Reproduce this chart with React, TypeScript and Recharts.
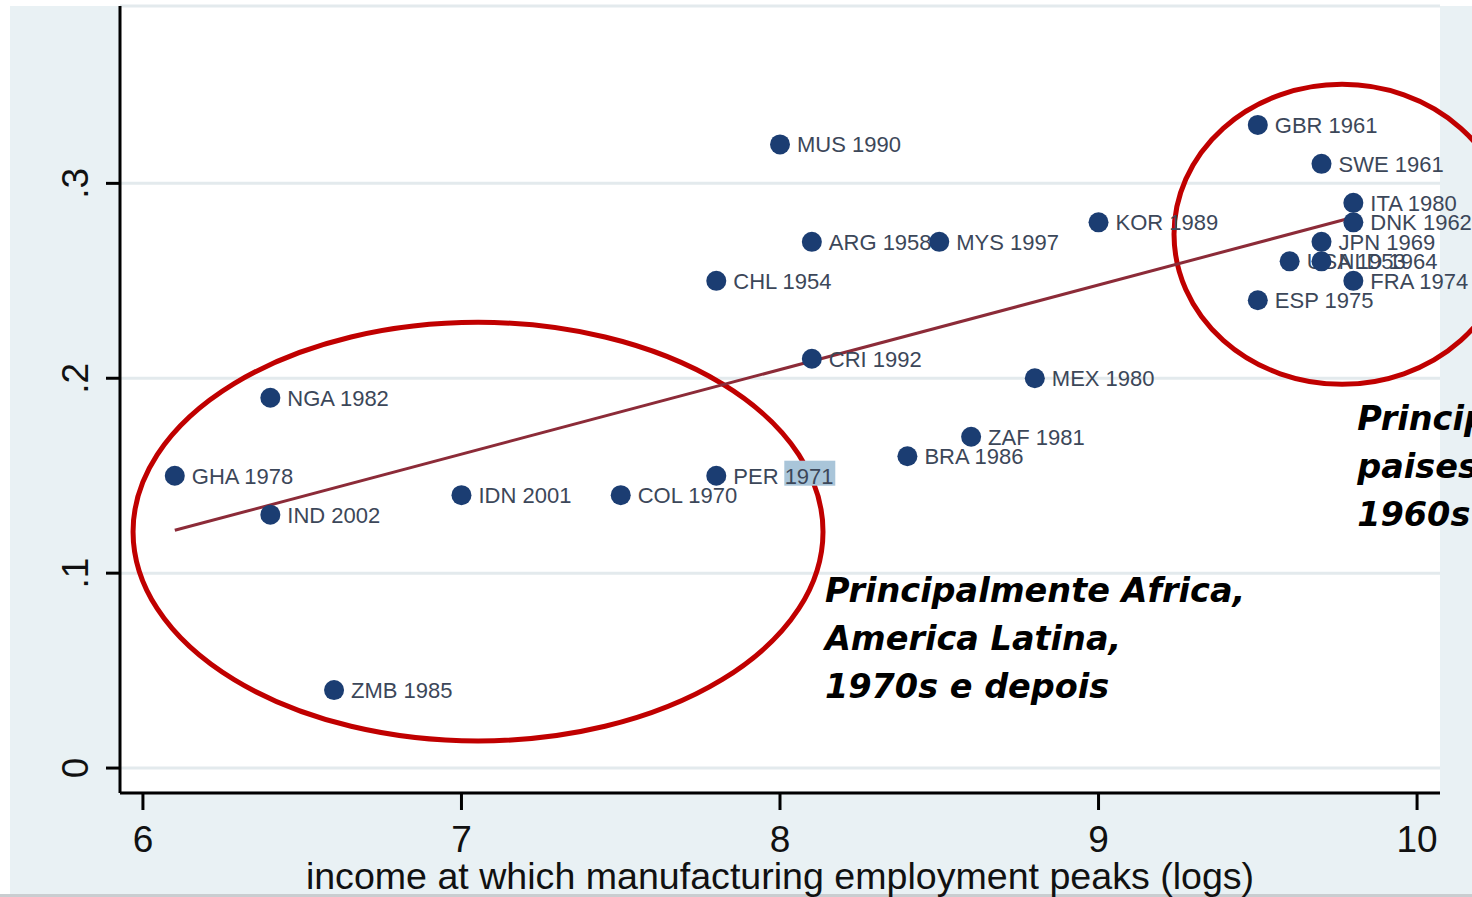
import { ScatterChart, Scatter, XAxis, YAxis, CartesianGrid, ReferenceLine, ReferenceArea, ReferenceDot } from "recharts";

// country + year of peak
const countries = [
  "GHA 1978", "NGA 1982", "IND 2002", "ZMB 1985", "IDN 2001", "COL 1970", "PER 1971",
  "CHL 1954", "MUS 1990", "ARG 1958", "CRI 1992", "MYS 1997", "BRA 1986", "ZAF 1981",
  "MEX 1980", "KOR 1989", "GBR 1961", "SWE 1961", "ITA 1980", "DNK 1962", "JPN 1969",
  "USA 1953", "NLD 1964", "FRA 1974", "ESP 1975",
];
// income at which manufacturing employment peaks (logs)
const peakIncome = [
  6.1, 6.4, 6.4, 6.6, 7.0, 7.5, 7.8,
  7.8, 8.0, 8.1, 8.1, 8.5, 8.4, 8.6,
  8.8, 9.0, 9.5, 9.7, 9.8, 9.8, 9.7,
  9.6, 9.7, 9.8, 9.5,
];
// peak manufacturing employment share
const peakShare = [
  0.15, 0.19, 0.13, 0.04, 0.14, 0.14, 0.15,
  0.25, 0.32, 0.27, 0.21, 0.27, 0.16, 0.17,
  0.2, 0.28, 0.33, 0.31, 0.29, 0.28, 0.27,
  0.26, 0.26, 0.25, 0.24,
];
const highlighted = ["PER 1971"];

const xTicks = [6, 7, 8, 9, 10];
const yTicks = [0, 0.1, 0.2, 0.3];
const yTickLabels = ["0", ".1", ".2", ".3"];

const fitLine = [
  { x: 6.1, y: 0.122 },
  { x: 9.8, y: 0.2826 },
];

// hand-drawn circles (bounding boxes in data units)
const circles = [
  { x1: 5.969, x2: 8.135, y1: 0.0139, y2: 0.2287 },
  { x1: 9.237, x2: 10.292, y1: 0.1969, y2: 0.3508 },
];
const notes = [
  { x: 8.141, y: 0.0851, lines: ["Principalmente Africa,", "America Latina,", "1970s e depois"] },
  { x: 9.812, y: 0.1733, lines: ["Principalmente", "paises ricos,", "1960s"] },
];

const data = countries.map((label, i) => ({
  label,
  x: peakIncome[i],
  y: peakShare[i],
  highlight: highlighted.includes(label),
}));

const sans = "'Liberation Sans', Arial, sans-serif";

function CountryDot(props: any) {
  const { cx, cy, payload } = props;
  return (
    <g>
      {payload.highlight && <rect x={cx + 68} y={cy - 15} width={51} height={25} fill="#a9c5d9" />}
      <circle cx={cx} cy={cy} r={10} fill="#1b3d72" />
      <text x={cx + 17} y={cy} dy="0.36em" fontSize={22} fill="#3c4759" fontFamily={sans}>
        {payload.label}
      </text>
    </g>
  );
}

function XTick(props: any) {
  const { x, y, payload } = props;
  return (
    <text x={x} y={y} dy={42} textAnchor="middle" fontSize={37} fill="#111" fontFamily={sans}>
      {payload.value}
    </text>
  );
}

function YTick(props: any) {
  const { y, payload } = props;
  const i = yTicks.indexOf(payload.value);
  return (
    <text
      transform={`translate(75,${y}) rotate(-90)`}
      textAnchor="middle"
      dy="0.36em"
      fontSize={37}
      fill="#111"
      fontFamily={sans}
    >
      {yTickLabels[i]}
    </text>
  );
}

function Ellipse(props: any) {
  const { x, y, width, height } = props;
  const w = Math.abs(width);
  const h = Math.abs(height);
  const left = width < 0 ? x + width : x;
  const top = height < 0 ? y + height : y;
  return (
    <ellipse
      cx={left + w / 2}
      cy={top + h / 2}
      rx={w / 2}
      ry={h / 2}
      fill="none"
      stroke="#c00000"
      strokeWidth={5}
    />
  );
}

function Note(lines: string[]) {
  return (props: any) => {
    const { cx, cy } = props;
    return (
      <text
        x={cx}
        y={cy}
        fontSize={33.5}
        fontWeight="bold"
        fontStyle="italic"
        fill="#000"
        fontFamily="'DejaVu Sans', Verdana, sans-serif"
      >
        {lines.map((l, i) => (
          <tspan key={i} x={cx} dy={i === 0 ? 0 : 48}>
            {l}
          </tspan>
        ))}
      </text>
    );
  };
}

export default function App() {
  return (
    <div style={{ position: "absolute", left: 0, top: 0, width: 1472, height: 897, background: "#fff", overflow: "hidden" }}>
      <div style={{ position: "absolute", left: 10, top: 6, width: 1462, height: 888, background: "#e9f1f4" }} />
      <div style={{ position: "absolute", left: 0, top: 894, width: 1472, height: 3, background: "#c9cdd0" }} />
      <div style={{ position: "absolute", left: 0, top: 0 }}>
        <ScatterChart width={1472} height={897} margin={{ top: 6, right: 32, bottom: 0, left: 0 }}>
          <CartesianGrid vertical={false} stroke="#e3eaed" strokeWidth={3} fill="#ffffff" />
          <XAxis
            type="number"
            dataKey="x"
            domain={[5.928, 10.072]}
            ticks={xTicks}
            height={104}
            tickSize={17}
            tickMargin={0}
            axisLine={{ stroke: "#000", strokeWidth: 3 }}
            tickLine={{ stroke: "#000", strokeWidth: 3 }}
            tick={<XTick />}
            label={{
              value: "income at which manufacturing employment peaks (logs)",
              position: "insideBottom",
              offset: 8,
              fontSize: 37.6,
              fill: "#111",
              fontFamily: sans,
            }}
          />
          <YAxis
            type="number"
            dataKey="y"
            domain={[-0.0128, 0.391]}
            ticks={yTicks}
            width={120}
            tickSize={14}
            tickMargin={0}
            axisLine={{ stroke: "#000", strokeWidth: 3 }}
            tickLine={{ stroke: "#000", strokeWidth: 3 }}
            tick={<YTick />}
          />
          <Scatter data={data} shape={<CountryDot />} isAnimationActive={false} />
          <ReferenceLine segment={fitLine} stroke="#8c2b38" strokeWidth={3} ifOverflow="visible" />
          {circles.map((c, i) => (
            <ReferenceArea
              key={i}
              x1={c.x1}
              x2={c.x2}
              y1={c.y1}
              y2={c.y2}
              ifOverflow="visible"
              shape={<Ellipse />}
            />
          ))}
          {notes.map((n, i) => (
            <ReferenceDot key={i} x={n.x} y={n.y} r={0} ifOverflow="visible" shape={Note(n.lines)} />
          ))}
        </ScatterChart>
      </div>
    </div>
  );
}
